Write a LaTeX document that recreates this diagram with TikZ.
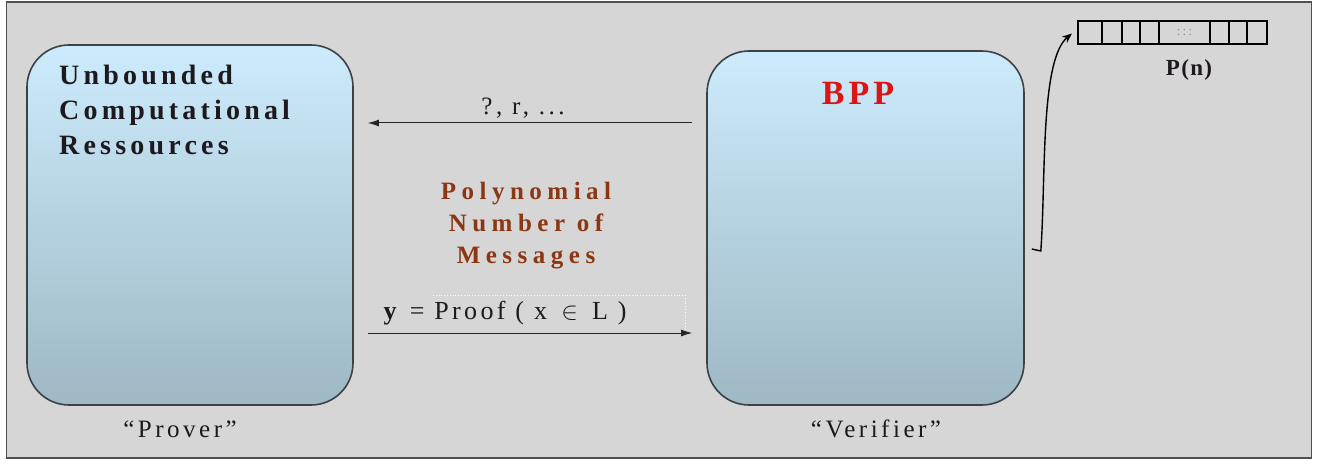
\documentclass[tikz,border=0pt]{standalone}
\usepackage{fontspec}
\setmainfont{Liberation Serif}
\usetikzlibrary{arrows.meta,calc}
\definecolor{bggray}{RGB}{214,214,214}
\definecolor{framegray}{RGB}{80,80,80}
\definecolor{boxtop}{RGB}{204,235,252}
\definecolor{boxbot}{RGB}{158,184,196}
\definecolor{boxline}{RGB}{60,65,70}
\definecolor{polybrown}{RGB}{140,55,20}
\definecolor{bppred}{RGB}{220,20,20}
\definecolor{darktext}{RGB}{30,25,30}
\tikzset{
  agent/.style={draw=boxline, line width=1.6pt, rounded corners=42pt,
    top color=boxtop, bottom color=boxbot, inner sep=0pt},
  msg/.style={draw=black!85, line width=1pt, -{Latex[length=11pt,width=7pt]}},
  cell/.style={draw=black, line width=1.2pt, fill=bggray, minimum height=23pt, inner sep=0pt, outer sep=0pt},
  lbl/.style={inner sep=0pt, text=darktext},
}
\begin{document}
\begin{tikzpicture}[x=1pt,y=-1pt]
\useasboundingbox (0,0) rectangle (1319,465);
\fill[white] (0,0) rectangle (1319,465);
% frame
\node[draw=framegray, line width=1.5pt, fill=bggray, minimum width=1305pt, minimum height=456pt, inner sep=0pt] (frame) at (659,230) {};
% agents
\node[agent, minimum width=326pt, minimum height=360pt] (prover) at (190,225) {};
\node[agent, minimum width=317pt, minimum height=354pt] (verifier) at (865.5,228) {};
% texts inside
\node[lbl, anchor=west, align=left, font={\fontsize{28}{35}\selectfont\bfseries\addfontfeatures{LetterSpace=15}}] (unb) at (59,110)
  {Unbounded\\Computational\\Ressources};
\node[lbl, text=bppred, font={\fontsize{34}{36}\selectfont\bfseries\addfontfeatures{LetterSpace=12}}] (bpp) at (858,93) {BPP};
% messages
\draw[msg, shorten <=14pt, shorten >=14pt] (verifier.west |- 0,123) -- (prover.east |- 0,123);
\node[lbl, font={\fontsize{25}{24}\selectfont\addfontfeatures{LetterSpace=14}}] (q) at (523,108) {?, r, ...};
\node[lbl, text=polybrown, align=center, font={\fontsize{25}{32}\selectfont\bfseries\addfontfeatures{LetterSpace=22}}] (poly) at (526,226)
  {Polynomial\\Number of\\Messages};
\draw[white, dotted, line width=0.8pt] (433,295) -- (685,295) -- (685,330);
\draw[msg, shorten <=14pt, shorten >=14pt] (prover.east |- 0,333) -- (verifier.west |- 0,333);
\node[lbl, font={\fontsize{26}{26}\selectfont\addfontfeatures{LetterSpace=13}}] (proof) at (505,313)
  {\textbf{y} = Proof ( x \,$\in$\, L )};
% captions
\node[lbl, font={\fontsize{25}{26}\selectfont\addfontfeatures{LetterSpace=14}}] (pcap) at (180,429) {“Prover”};
\node[lbl, font={\fontsize{25}{26}\selectfont\addfontfeatures{LetterSpace=14}}] (vcap) at (876,429) {“Verifier”};
% tape
\node[cell, minimum width=24pt, anchor=north west] (c1) at (1078,21) {};
\node[cell, minimum width=20pt, anchor=west] (c2) at (c1.east) {};
\node[cell, minimum width=18pt, anchor=west] (c3) at (c2.east) {};
\node[cell, minimum width=19pt, anchor=west] (c4) at (c3.east) {};
\node[cell, minimum width=51pt, anchor=west, font=\fontsize{13}{13}\selectfont, text=black!45] (c5) at (c4.east) {:\,:\,:};
\node[cell, minimum width=19pt, anchor=west] (c6) at (c5.east) {};
\node[cell, minimum width=18pt, anchor=west] (c7) at (c6.east) {};
\node[cell, minimum width=20pt, anchor=west] (c8) at (c7.east) {};
\node[lbl, font={\fontsize{23}{22}\selectfont\bfseries\addfontfeatures{LetterSpace=6}}] (pn) at (1189,70) {P(n)};
% random tape access
\coordinate (hook) at ($(verifier.east |- 0,249)+(7,0)$);
\draw[black, line width=1.4pt, -{Stealth[length=10pt,width=8pt]}] (hook) -- ++(9,2) .. controls (1046,180) and (1040,60) .. ($(c1.west)+(-6,1)$);
\end{tikzpicture}
\end{document}
